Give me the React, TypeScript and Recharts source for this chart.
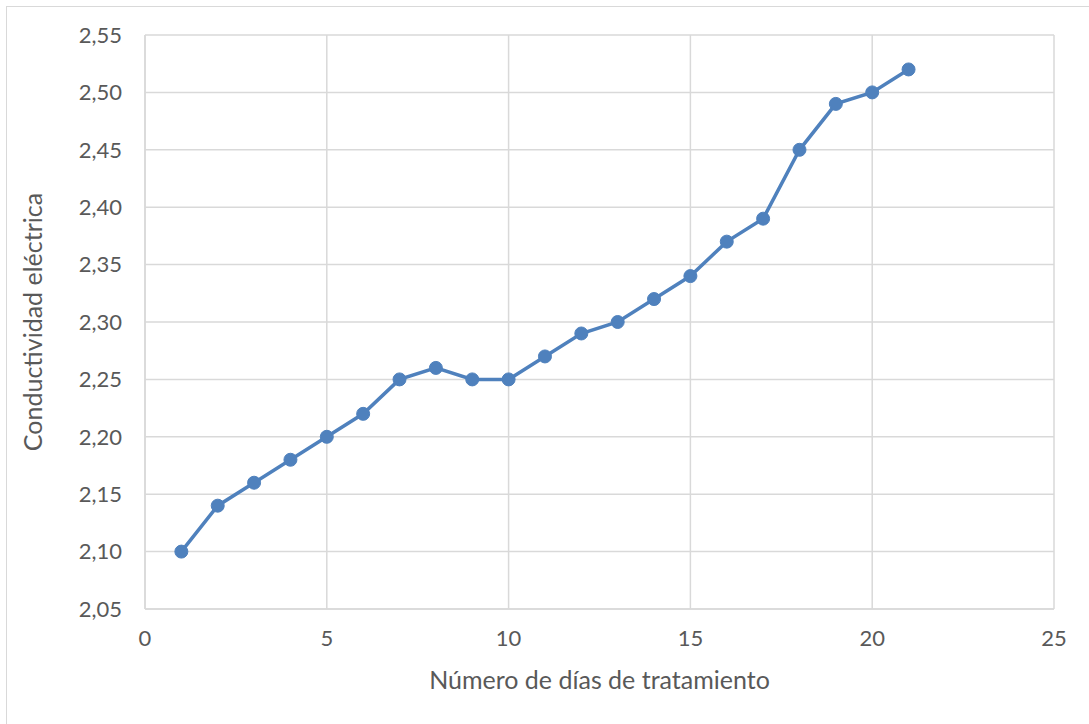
import React from "react";
import { LineChart, Line, XAxis, YAxis, CartesianGrid } from "recharts";

const days = [1, 2, 3, 4, 5, 6, 7, 8, 9, 10, 11, 12, 13, 14, 15, 16, 17, 18, 19, 20, 21];
const conductivity = [2.10, 2.14, 2.16, 2.18, 2.20, 2.22, 2.25, 2.26, 2.25, 2.25, 2.27, 2.29, 2.30, 2.32, 2.34, 2.37, 2.39, 2.45, 2.49, 2.50, 2.52];
const xTicks = [0, 5, 10, 15, 20, 25];
const yTicks = [2.05, 2.1, 2.15, 2.2, 2.25, 2.3, 2.35, 2.4, 2.45, 2.5, 2.55];

const data = days.map((d, i) => ({ x: d, y: conductivity[i] }));

const FONT = "Lato, 'Open Sans', sans-serif";
const TEXT = "#595959";
const GRID = "#d9d9d9";
const BLUE = "#4f81bd";

export default function App() {
  return (
    <div style={{ position: "absolute", left: 0, top: 0, width: 1089, height: 724, background: "#fff", fontFamily: FONT }}>
      <div style={{ position: "absolute", left: 6, top: 6, width: 1088, height: 724, border: `1px solid ${GRID}`, boxSizing: "border-box" }} />
      <LineChart
        width={1089}
        height={724}
        data={data}
        margin={{ top: 35, right: 35, bottom: 0, left: 0 }}
      >
        <CartesianGrid stroke={GRID} strokeWidth={1.5} />
        <XAxis
          dataKey="x"
          type="number"
          domain={[0, 25]}
          ticks={xTicks}
          height={115}
          stroke={GRID}
          strokeWidth={1.5}
          tickLine={false}
          tickSize={0}
          tickMargin={21}
          tick={{ fill: TEXT, fontSize: 22, fontFamily: FONT }}
          label={{ value: "Número de días de tratamiento", position: "insideBottom", offset: 35, fill: TEXT, fontSize: 25, fontFamily: FONT }}
        />
        <YAxis
          type="number"
          domain={[2.05, 2.55]}
          ticks={yTicks}
          width={145}
          stroke={GRID}
          strokeWidth={1.5}
          tickLine={false}
          tickSize={0}
          tickMargin={23}
          tickFormatter={(v: number) => v.toFixed(2).replace(".", ",")}
          tick={{ fill: TEXT, fontSize: 22, fontFamily: FONT }}
          label={{ value: "Conductividad eléctrica", angle: -90, position: "insideLeft", offset: 33, fill: TEXT, fontSize: 25, fontFamily: FONT, style: { textAnchor: "middle" } }}
          allowDataOverflow
        />
        <Line
          dataKey="y"
          stroke={BLUE}
          strokeWidth={3.5}
          dot={{ r: 6.5, fill: BLUE, stroke: BLUE, strokeWidth: 1 }}
          activeDot={false}
          isAnimationActive={false}
        />
      </LineChart>
    </div>
  );
}
